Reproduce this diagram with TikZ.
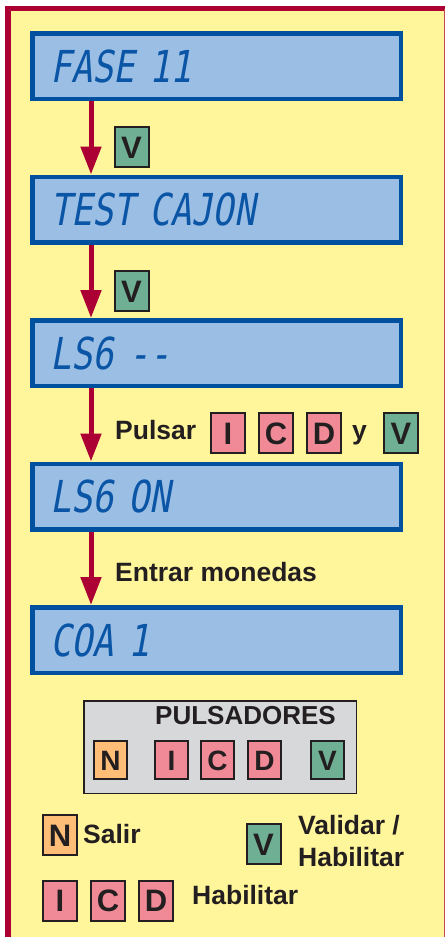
\documentclass[tikz,border=0pt]{standalone}
\usepackage{fontspec}
\setmainfont{Liberation Sans}
\newfontfamily\lcdfont[FakeStretch=0.8,FakeSlant=0.18]{DejaVu Sans Mono}
\usetikzlibrary{arrows.meta, positioning}
\definecolor{panelyellow}{RGB}{255,245,155}
\definecolor{framered}{RGB}{172,0,52}
\definecolor{lcdblue}{RGB}{0,80,160}
\definecolor{lcdfill}{RGB}{154,190,228}
\definecolor{lcdtext}{RGB}{10,85,165}
\definecolor{keyred}{RGB}{240,138,150}
\definecolor{keygreen}{RGB}{111,175,148}
\definecolor{keyorange}{RGB}{255,190,120}
\definecolor{keygray}{RGB}{215,216,218}
\definecolor{inkblack}{RGB}{35,31,32}

\begin{document}
\begin{tikzpicture}[
    x=1pt, y=1pt,
    node distance=73.5pt,
    lcd/.style={rectangle, draw=lcdblue, fill=lcdfill, line width=4.5pt, minimum width=368.5pt, minimum height=65.5pt, text width=333pt, inner xsep=17.75pt, align=left, font=\lcdfont\fontsize{44}{44}\selectfont, text=lcdtext, text height=32pt, text depth=0pt},
    key/.style={rectangle, draw=inkblack, line width=2pt, minimum width=34pt, minimum height=40pt, inner sep=0pt, font=\bfseries\fontsize{31}{31}\selectfont, text=inkblack, text height=22pt, text depth=0pt},
    smallkey/.style={key, minimum width=33pt, minimum height=38pt, font=\bfseries\fontsize{28}{28}\selectfont, text height=20pt},
    lbl/.style={inner sep=0pt, font=\bfseries\fontsize{26.5}{32}\selectfont, text=inkblack, text height=19pt, text depth=0pt},
    flow/.style={draw=framered, line width=5pt, -{Triangle[width=20pt,length=28pt]}}
]
\useasboundingbox (0,0) rectangle (445,-937);

% panel with red frame
\fill[white] (0,0) rectangle (445,-937);
\fill[panelyellow] (8,-8) rectangle (445,-937);
\draw[framered, line width=5.5pt] (8,-937) -- (8,-8.5) -- (445,-8.5);
\draw[framered!70!panelyellow, line width=1.5pt] (444.25,-8.5) -- (444.25,-937);

% display sequence
\node[lcd] (fase) at (216.5,-66) {FASE 11};
\node[lcd, below=of fase] (test) {TEST CAJON};
\node[lcd, below=of test] (ls6) {LS6 --};
\node[lcd, below=of ls6] (ls6on) {LS6 ON};
\node[lcd, below=of ls6on] (coa) {COA 1};

\foreach \a/\b in {fase/test, test/ls6, ls6/ls6on, ls6on/coa}
    \draw[flow] ([xshift=61pt]\a.south west) -- ([xshift=61pt]\b.north west);

\node[key, fill=keygreen] (v1) at (131.5,-147) {V};
\node[key, fill=keygreen] (v2) at (131.5,-291) {V};

\node[lbl, anchor=west] (pulsar) at (115,-430) {Pulsar};
\node[key, fill=keyred] (pi) at (228,-433) {I};
\node[key, fill=keyred, right=12pt of pi] (pc) {C};
\node[key, fill=keyred, right=12pt of pc] (pd) {D};
\node[lbl, right=10pt of pd, yshift=3pt] (py) {y};
\node[key, fill=keygreen] (pv) at (401,-433) {V};

\node[lbl, anchor=west] (entrar) at (115,-572) {Entrar monedas};

% push buttons
\node[draw=inkblack, line width=1.5pt, fill=keygray, minimum width=272.5pt, minimum height=92.5pt] (panel) at (220,-747) {};
\node[lbl, font=\bfseries\fontsize{26}{30}\selectfont] (title) at (245.5,-715) {PULSADORES};
\node[smallkey, fill=keyorange] (bn) at (110.5,-760) {N};
\node[smallkey, fill=keyred] (bi) at (171.5,-760) {I};
\node[smallkey, fill=keyred] (bc) at (217.5,-760) {C};
\node[smallkey, fill=keyred] (bd) at (264.5,-760) {D};
\node[smallkey, fill=keygreen] (bv) at (327.5,-760) {V};

% legend
\node[key, fill=keyorange] (ln) at (60,-835) {N};
\node[lbl, anchor=west] (salir) at (83,-834) {Salir};
\node[key, fill=keygreen] (lv) at (263.5,-844) {V};
\node[lbl, anchor=north west, align=left, text height=] (validar) at (298,-815) {Validar /\\Habilitar};
\node[key, fill=keyred] (li) at (60,-900.5) {I};
\node[key, fill=keyred, right=12pt of li] (lc) {C};
\node[key, fill=keyred, right=12pt of lc] (ld) {D};
\node[lbl, anchor=west] (habilitar) at (192,-895) {Habilitar};
\end{tikzpicture}
\end{document}
